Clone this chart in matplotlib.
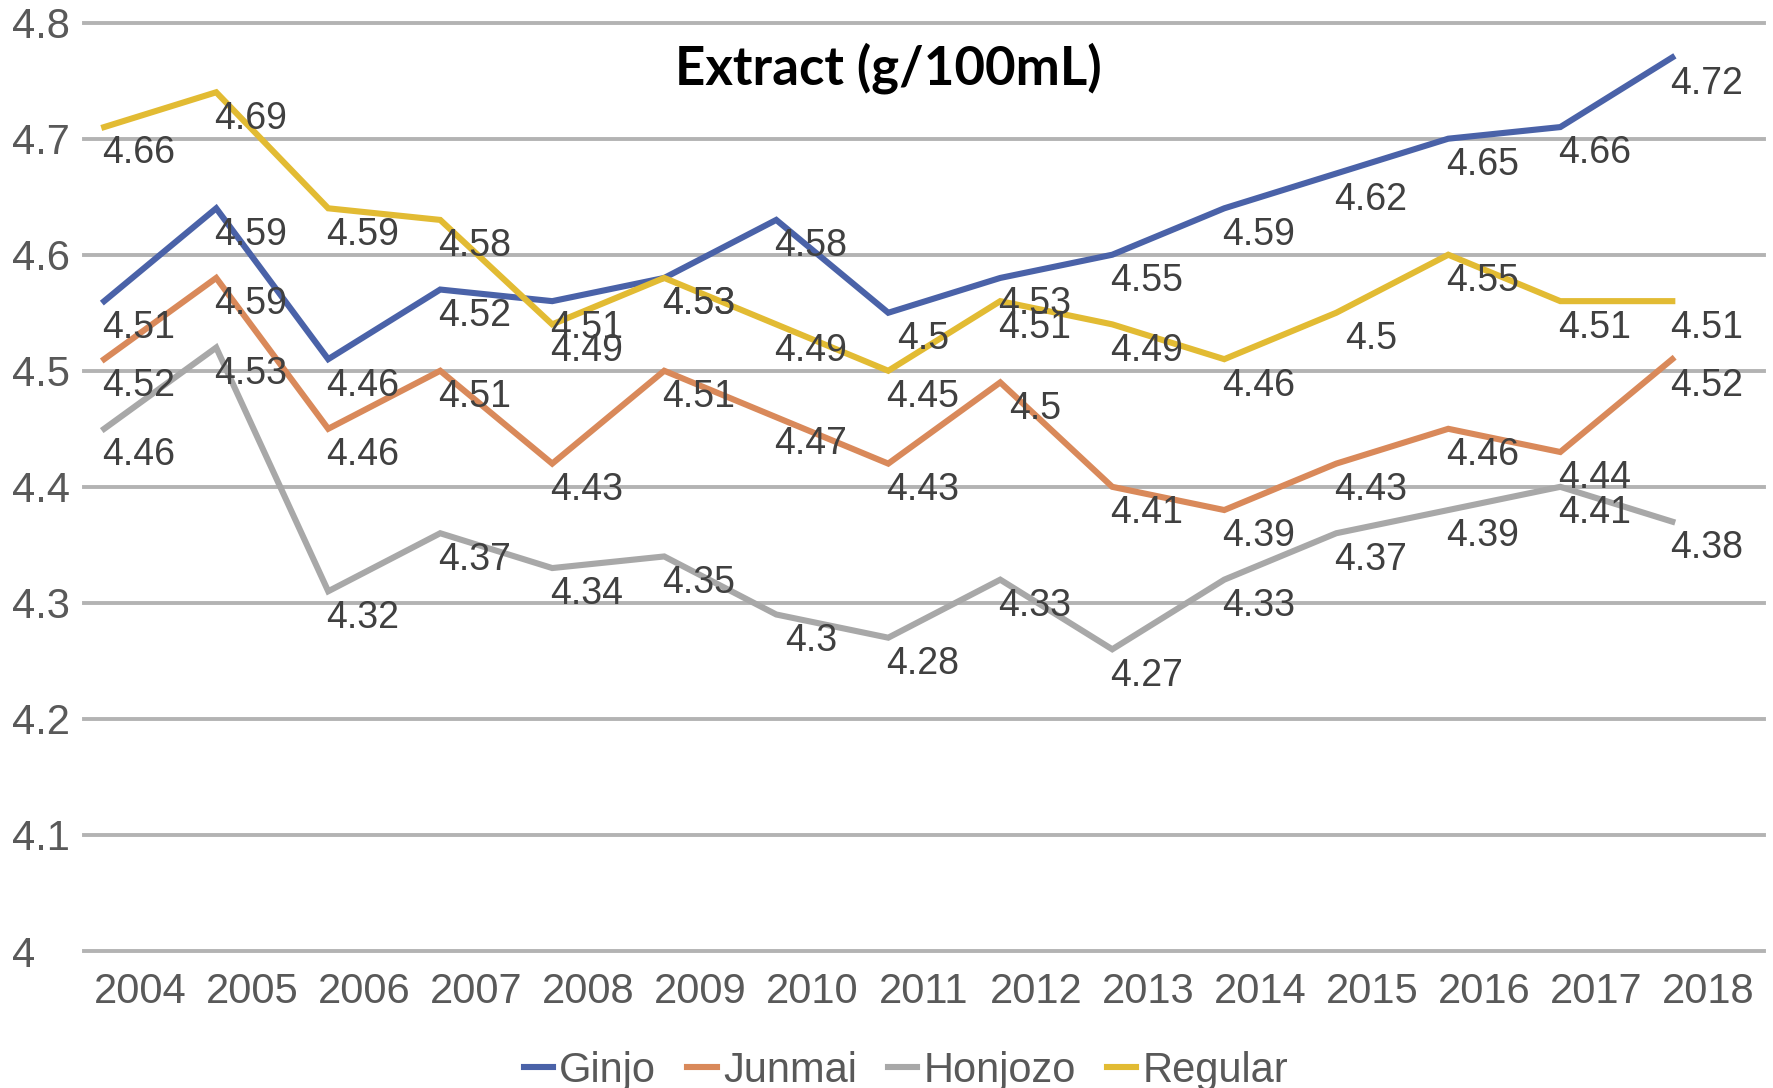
import matplotlib
matplotlib.use("Agg")
import matplotlib.pyplot as plt
import numpy as np

years = ["2004", "2005", "2006", "2007", "2008", "2009", "2010", "2011",
         "2012", "2013", "2014", "2015", "2016", "2017", "2018"]
series_names = ["Ginjo", "Junmai", "Honjozo", "Regular"]

# line positions as drawn in the picture
ginjo_line = [4.56, 4.64, 4.51, 4.57, 4.56, 4.58, 4.63, 4.55, 4.58, 4.60, 4.64, 4.67, 4.70, 4.71, 4.77]
junmai_line = [4.51, 4.58, 4.45, 4.50, 4.42, 4.50, 4.46, 4.42, 4.49, 4.40, 4.38, 4.42, 4.45, 4.43, 4.51]
honjozo_line = [4.45, 4.52, 4.31, 4.36, 4.33, 4.34, 4.29, 4.27, 4.32, 4.26, 4.32, 4.36, 4.38, 4.40, 4.37]
regular_line = [4.71, 4.74, 4.64, 4.63, 4.54, 4.58, 4.54, 4.50, 4.56, 4.54, 4.51, 4.55, 4.60, 4.56, 4.56]

# data labels as printed in the picture
ginjo_labels = ["4.51", "4.59", "4.46", "4.52", "4.51", "4.53", "4.58", "4.5", "4.53", "4.55", "4.59", "4.62", "4.65", "4.66", "4.72"]
junmai_labels = ["4.52", "4.59", "4.46", "4.51", "4.43", "4.51", "4.47", "4.43", "4.5", "4.41", "4.39", "4.43", "4.46", "4.44", "4.52"]
honjozo_labels = ["4.46", "4.53", "4.32", "4.37", "4.34", "4.35", "4.3", "4.28", "4.33", "4.27", "4.33", "4.37", "4.39", "4.41", "4.38"]
regular_labels = ["4.66", "4.69", "4.59", "4.58", "4.49", "4.53", "4.49", "4.45", "4.51", "4.49", "4.46", "4.5", "4.55", "4.51", "4.51"]

y_ticks = [4.0, 4.1, 4.2, 4.3, 4.4, 4.5, 4.6, 4.7, 4.8]
y_tick_labels = ["4", "4.1", "4.2", "4.3", "4.4", "4.5", "4.6", "4.7", "4.8"]

colors = ["#4a62a8", "#d9895a", "#a8a8a8", "#e2bb33"]
lines = [ginjo_line, junmai_line, honjozo_line, regular_line]
labels = [ginjo_labels, junmai_labels, honjozo_labels, regular_labels]

line_shift = -0.32  # lines drawn left of category centres in the original

fig = plt.figure(figsize=(17.73, 10.88), dpi=100)
ax = fig.add_axes([0.0474, 0.1259, 0.9476, 0.8533])

x = np.arange(len(years))
for name, vals, labs, c in zip(series_names, lines, labels, colors):
    ax.plot(x + line_shift, vals, color=c, lw=4.4, label=name, solid_joinstyle="miter", zorder=3)
    for xi, v, t in zip(x, vals, labs):
        ax.annotate(t, (xi + line_shift, v), xytext=(25, -19), textcoords="offset points",
                    ha="center", va="center", fontsize=27, color="#404040",
                    family="Liberation Sans", zorder=4)

ax.set_xlim(-0.5, len(years) - 0.5)
ax.set_ylim(4.0, 4.8)
ax.set_yticks(y_ticks)
ax.set_yticklabels(y_tick_labels)
ax.set_xticks(x)
ax.set_xticklabels(years)
for s in ax.spines.values():
    s.set_visible(False)
ax.grid(axis="y", color="#b3b3b3", lw=2.8)
ax.grid(axis="x", visible=False)
for gl in ax.get_ygridlines():
    gl.set_clip_on(False)
ax.set_axisbelow(True)
ax.tick_params(axis="y", length=0, pad=52, labelsize=30, labelcolor="#595959")
ax.tick_params(axis="x", length=0, pad=15, labelsize=30, labelcolor="#595959")
for lab in ax.get_yticklabels():
    lab.set_ha("left")
    lab.set_family("Liberation Sans")
for lab in ax.get_xticklabels():
    lab.set_family("Liberation Sans")

fig.text(0.501, 1 - 68 / 1088, "Extract (g/100mL)", ha="center", va="center",
         fontsize=38, fontweight="bold", family="Lato", color="black")

leg = fig.legend(loc="center", bbox_to_anchor=(0.511, 17 / 1088), ncol=4, frameon=False,
                 handlelength=0.7, handletextpad=0.15, columnspacing=0.75, borderpad=0,
                 prop={"family": "Liberation Sans", "size": 30})
for t in leg.get_texts():
    t.set_color("#595959")

fig.savefig("out.png", dpi=100)
